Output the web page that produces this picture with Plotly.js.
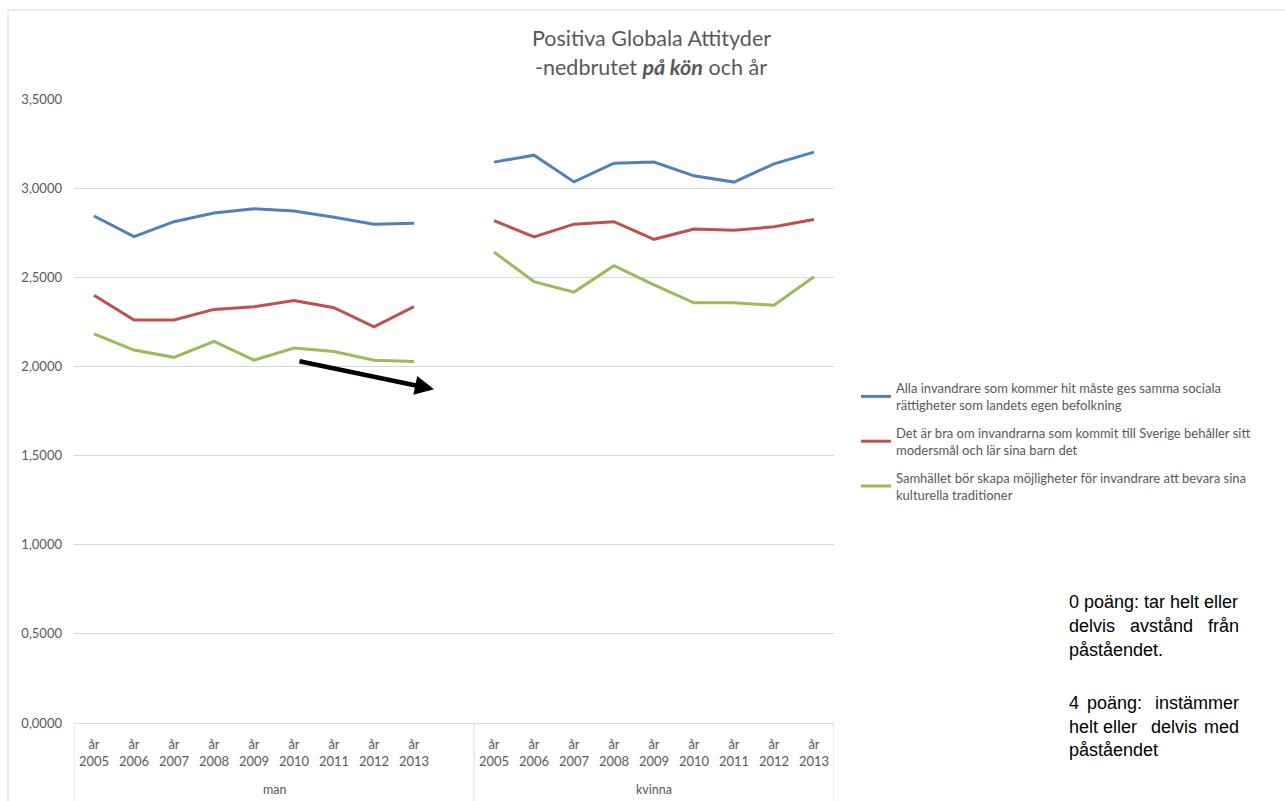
<!DOCTYPE html>
<html><head><meta charset="utf-8">
<script src="https://cdn.plot.ly/plotly-3.0.1.min.js"></script>
<style>html,body{margin:0;padding:0;background:#fff}#chart{width:1285px;height:801px}</style>
</head><body><div id="chart"></div>
<script>
// ---- data ----
const years = ["2005","2006","2007","2008","2009","2010","2011","2012","2013"];
const groups = ["man","kvinna"];
const seriesNames = [
  "Alla invandrare som kommer hit måste ges samma sociala<br>rättigheter som landets egen befolkning",
  "Det är bra om invandrarna som kommit till Sverige behåller sitt<br>modersmål och lär sina barn det",
  "Samhället bör skapa möjligheter för invandrare att bevara sina<br>kulturella traditioner"
];
const blueMan    = [2.844, 2.728, 2.812, 2.860, 2.885, 2.872, 2.837, 2.798, 2.803];
const blueKvinna = [3.146, 3.185, 3.035, 3.140, 3.146, 3.069, 3.034, 3.136, 3.202];
const redMan     = [2.399, 2.260, 2.260, 2.320, 2.335, 2.369, 2.329, 2.222, 2.335];
const redKvinna  = [2.818, 2.726, 2.798, 2.812, 2.713, 2.771, 2.764, 2.783, 2.824];
const greenMan   = [2.183, 2.092, 2.051, 2.140, 2.035, 2.103, 2.084, 2.035, 2.028];
const greenKvinna= [2.642, 2.475, 2.417, 2.565, 2.457, 2.357, 2.357, 2.343, 2.503];
const yTicks = [0, 0.5, 1, 1.5, 2, 2.5, 3, 3.5];

// ---- build category positions: man (9) + blank + kvinna (9) ----
const tickText = [];
years.forEach(y=>tickText.push("år<br>"+y));
const gapIdx = years.length;
const allX = [...Array(years.length*2+1).keys()];
function joined(a,b){ return [...a, null, ...b]; }

const colors = ["#4F81BD","#C0504D","#9BBB59"];
const dataSets = [joined(blueMan,blueKvinna), joined(redMan,redKvinna), joined(greenMan,greenKvinna)];
const traces = dataSets.map((d,k)=>({
  type:"scatter", mode:"lines", x: allX, y: d, name: seriesNames[k], legendgroup:"g"+k,
  connectgaps:false, line:{color:colors[k], width:3}, hoverinfo:"skip"
}));

const W=1285,H=801,L=74,R=1285-834,T=99,B=801-723;
const pw=W-L-R, ph=H-T-B;
const px=(v)=>(v-L)/pw, py=(v)=>1-(v-T)/ph;
const grey="#595959", font="Lato, 'Open Sans', sans-serif";

const tickVals = allX.filter(i=>i!==gapIdx);
const shapes = [
  {type:"rect", xref:"paper", yref:"paper", x0:px(8), x1:px(1300), y0:py(820), y1:py(10), line:{color:"#d9d9d9", width:1}, fillcolor:"rgba(0,0,0,0)", layer:"below"}
];
[-0.5, gapIdx+0.5, allX.length-0.5].forEach(v=>{
  shapes.push({type:"line", xref:"x", yref:"paper", x0:v, x1:v, y0:py(801), y1:0, line:{color:"#d9d9d9", width:1}});
});

const annotations = [
  {xref:"paper", yref:"paper", x:px(651), y:py(38), text:"Positiva Globala Attityder", showarrow:false, xanchor:"center", yanchor:"middle", font:{family:font, size:21.5, color:grey}},
  {xref:"paper", yref:"paper", x:px(651), y:py(67), text:"-nedbrutet <b><i>på kön</i></b> och år", showarrow:false, xanchor:"center", yanchor:"middle", font:{family:font, size:21.5, color:grey}},
  {xref:"x", yref:"paper", x:(gapIdx)/2, y:py(789), text:groups[0], showarrow:false, xanchor:"center", yanchor:"middle", font:{family:font, size:12.5, color:grey}},
  {xref:"x", yref:"paper", x:gapIdx+1+(years.length-1)/2, y:py(789), text:groups[1], showarrow:false, xanchor:"center", yanchor:"middle", font:{family:font, size:12.5, color:grey}},
  {xref:"x", yref:"y", axref:"x", ayref:"y", x:8.5, y:1.872, ax:5.1, ay:2.031, text:"", showarrow:true, arrowhead:2, arrowsize:0.85, arrowwidth:4.5, arrowcolor:"#000"}
];
const nf = {family:"'Liberation Sans', Arial, sans-serif", size:18, color:"#000"};
function note(text, x, y, anchor){ annotations.push({xref:"paper", yref:"paper", x:px(x), y:py(y), text, showarrow:false, xanchor:anchor, yanchor:"middle", font:nf}); }
note("0 poäng: tar helt eller", 1067, 602, "left");
note("delvis", 1067, 626, "left"); note("avstånd", 1161, 626, "center"); note("från", 1241, 626, "right");
note("påståendet.", 1067, 650, "left");
note("4", 1067, 703, "left"); note("poäng:", 1114, 703, "center"); note("instämmer", 1241, 703, "right");
note("helt", 1067, 727, "left"); note("eller", 1120, 727, "center"); note("delvis", 1174, 727, "center"); note("med", 1241, 727, "right");
note("påståendet", 1067, 750, "left");

const layout = {
  width:W, height:H, margin:{l:L, r:R, t:T, b:B, pad:0},
  paper_bgcolor:"#fff", plot_bgcolor:"#fff",
  separators:",.",
  showlegend:true,
  legend:{x:px(856), y:py(373), xanchor:"left", yanchor:"top", font:{family:font, size:13, color:grey}, tracegroupgap:8, itemwidth:30, bgcolor:"rgba(0,0,0,0)"},
  xaxis:{range:[-0.5, allX.length-0.5], tickmode:"array", tickvals:tickVals, ticktext:tickText.concat(tickText), showgrid:false, zeroline:false,
         showline:true, linecolor:"#d9d9d9", linewidth:1, ticks:"", ticklabelstandoff:9, tickfont:{family:font, size:13, color:grey}, fixedrange:true},
  yaxis:{range:[0,3.5], tickmode:"array", tickvals:yTicks, tickformat:".4f", showgrid:true, gridcolor:"#d9d9d9", gridwidth:1,
         zeroline:false, showline:false, ticks:"", ticklabelstandoff:11, tickfont:{family:font, size:13, color:grey}, fixedrange:true},
  shapes, annotations
};
Plotly.newPlot("chart", traces, layout, {displayModeBar:false, staticPlot:true});
</script></body></html>
